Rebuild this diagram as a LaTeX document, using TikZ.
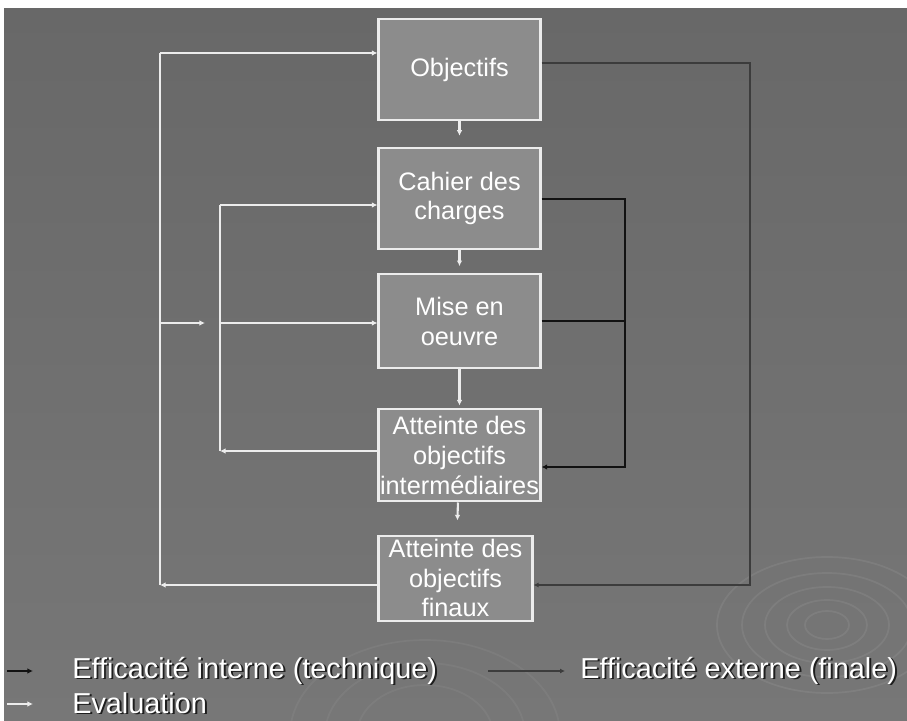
\documentclass[tikz,border=0pt]{standalone}
\usepackage{fontspec}
\setmainfont{Liberation Sans}
\usetikzlibrary{positioning, arrows.meta}

\definecolor{bgtop}{HTML}{686868}
\definecolor{bgbottom}{HTML}{777777}
\definecolor{boxgray}{HTML}{8C8C8C}
\definecolor{linewhite}{HTML}{ECECEC}
\definecolor{extgray}{HTML}{3C3C3C}
\definecolor{techblack}{HTML}{121212}
\definecolor{shadowgray}{HTML}{1E1E1E}

% white text with a dark drop shadow
\newcommand{\shadowtxt}[1]{\makebox[0pt][l]{\raisebox{-1.4pt}{\hspace{1.4pt}\textcolor{shadowgray}{#1}}}#1}

\begin{document}
\begin{tikzpicture}[
    x=0.025cm, y=-0.025cm,
    box/.style={
        draw=linewhite,
        line width=1.5pt,
        fill=boxgray,
        text=white,
        minimum width=4.05cm,
        inner sep=0pt,
        align=center,
        font=\fontsize{18}{21}\selectfont
    },
    eval/.style={
        -{Latex[length=4pt,width=4pt]},
        draw=linewhite,
        line width=1.5pt
    },
    evalline/.style={draw=linewhite, line width=1.5pt},
    tech/.style={
        -{Latex[length=4pt,width=4pt]},
        draw=techblack,
        line width=1.6pt
    },
    techline/.style={draw=techblack, line width=1.6pt},
    ext/.style={
        -{Latex[length=3.5pt,width=3.5pt]},
        draw=extgray,
        line width=1.2pt
    },
    legend/.style={
        text=white,
        inner sep=0pt,
        font=\fontsize{20.5}{25}\selectfont
    }
]

% Background
\useasboundingbox (0,0) rectangle (907,721);
\fill[white] (0,0) rectangle (907,721);
\shade[top color=bgtop, bottom color=bgbottom] (4,9) rectangle (907,721);
\begin{scope}
    \clip (4,9) rectangle (907,721);
    \foreach \rx/\ry in {110/68, 85/52, 62/38, 40/25, 22/14}
        \draw[white, opacity=0.07, line width=1.2pt] (827,625) ellipse ({\rx} and {\ry});
    \foreach \rx/\ry in {135/95, 100/72, 68/50}
        \draw[white, opacity=0.05, line width=1.2pt] (425,735) ellipse ({\rx} and {\ry});
\end{scope}

% Boxes
\node (obj) [box, minimum height=2.525cm] at (459.5,69.5) {Objectifs};
\node (cahier) [box, minimum height=2.525cm, below=0.65cm of obj] {Cahier des\\charges};
\node (mise) [box, minimum height=2.35cm, below=0.575cm of cahier] {Mise en\\oeuvre};
\node (inter) [box, minimum height=2.3cm, below=0.975cm of mise] {Atteinte des\\objectifs\\intermédiaires};
\node (fin) [box, minimum height=2.125cm, minimum width=3.85cm, below=0.8cm of inter, xshift=-0.1cm] {Atteinte des\\objectifs\\finaux};

% Downward flow
\draw [eval, shorten >=8pt] (obj) -- (cahier);
\draw [eval, shorten >=5pt] (cahier) -- (mise);
\draw [eval, shorten >=2pt] (mise) -- (inter);
\draw [eval, shorten >=10pt] (inter) -- (fin);

% Evaluation loops (left)
\coordinate (lotop) at (160,53);
\coordinate (lobot) at (160,585);
\coordinate (lomid) at (160,323);
\coordinate (limid) at (205,323);
\coordinate (litop) at (220,205);
\coordinate (libot) at (220,451);

\draw [evalline] (lotop) -- (lobot);
\draw [eval] (lotop) -- (lotop -| obj.west);
\draw [eval] (lobot -| fin.west) -- (lobot);
\draw [eval] (lomid) -- (limid);

\draw [evalline] (litop) -- (libot);
\draw [eval] (litop) -- (litop -| cahier.west);
\draw [eval] (libot |- limid) -- (limid -| mise.west);
\draw [eval] (libot -| inter.west) -- (libot);

% Internal efficiency (right, black)
\coordinate (rbot) at (625,467);
\draw [tech] (cahier.east) -| (rbot) -- (rbot -| inter.east);
\draw [techline] (mise.east) -- (mise.east -| rbot);

% External efficiency (right, gray)
\coordinate (ertop) at (750,63);
\coordinate (erbot) at (750,585);
\draw [ext] (ertop -| obj.east) -- (ertop) -- (erbot) -- (erbot -| fin.east);

% Legend
\node (legint) [legend, anchor=base west] at (72,678) {\shadowtxt{Efficacité interne (technique)}};
\node (legext) [legend, anchor=base west] at (580,678) {\shadowtxt{Efficacité externe (finale)}};
\node (legeval) [legend, anchor=base west] at (72,713) {\shadowtxt{Evaluation}};

\coordinate (kinta) at (7,671);
\coordinate (kintb) at (33,671);
\coordinate (kexta) at (488,671);
\coordinate (kextb) at (565,671);
\coordinate (kevala) at (7,704);
\coordinate (kevalb) at (33,704);
\draw [tech] (kinta) -- (kintb);
\draw [ext] (kexta) -- (kextb);
\draw [eval] (kevala) -- (kevalb);

\end{tikzpicture}
\end{document}
